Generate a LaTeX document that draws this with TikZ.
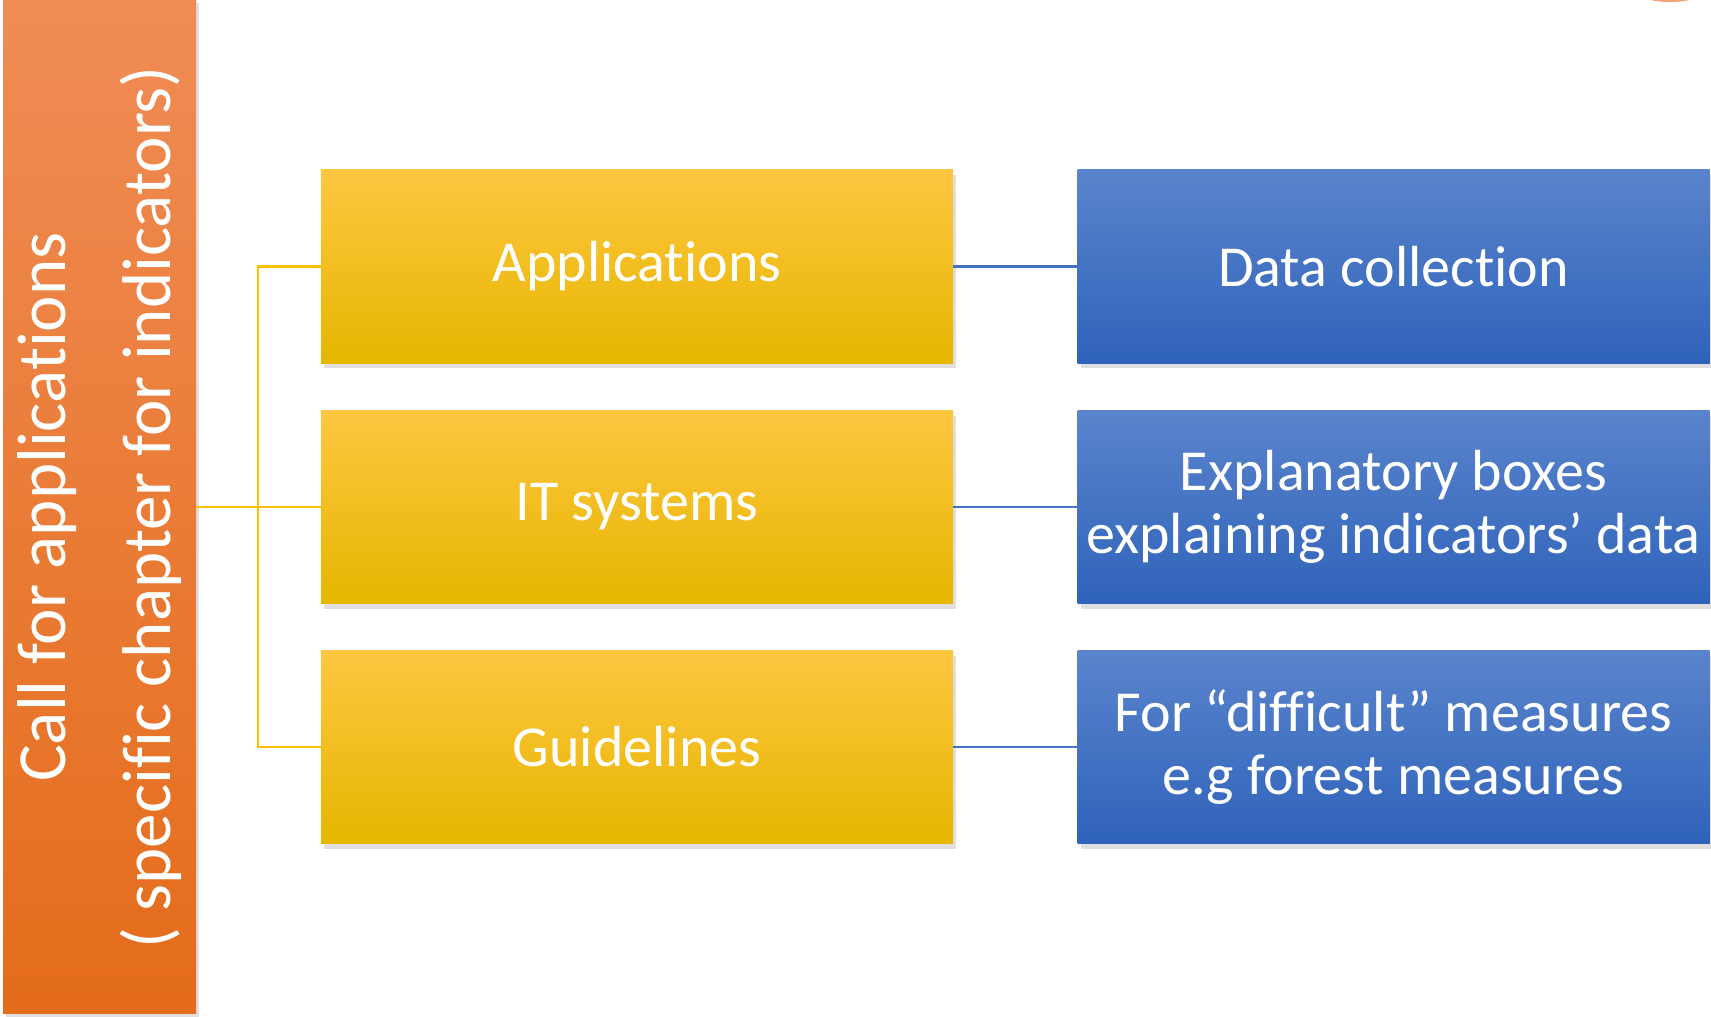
\documentclass[tikz,border=0pt]{standalone}
\usepackage{fontspec}
\setmainfont{Carlito}[Ligatures=CommonOff]
\usetikzlibrary{shadows}
\definecolor{calllight}{HTML}{F08C55}
\definecolor{callmid}{HTML}{F47F30}
\definecolor{calldark}{HTML}{E46C1A}
\definecolor{goldtop}{HTML}{FFC641}
\definecolor{goldmid}{HTML}{FFC000}
\definecolor{goldbot}{HTML}{E6B600}
\definecolor{bluetop}{HTML}{5A84CC}
\definecolor{bluebot}{HTML}{2F63BA}
\definecolor{goldwire}{HTML}{FFC000}
\definecolor{bluewire}{HTML}{4472C4}

\begin{document}
\begin{tikzpicture}[x=0.5pt,y=-0.5pt]
\tikzstyle{every node}+=[inner sep=0pt, text=white, align=center]
\tikzstyle{box}=[rectangle, minimum width=316pt, minimum height=96.5pt, font=\fontsize{29pt}{31.5pt}\selectfont, drop shadow={shadow xshift=1.5pt, shadow yshift=-2.5pt, opacity=0.25}]
\tikzstyle{goldbox}=[box, top color=goldtop, middle color=goldmid, bottom color=goldbot]
\tikzstyle{bluebox}=[box, top color=bluetop, bottom color=bluebot]
\tikzstyle{callbar}=[rectangle, rotate=90, minimum width=506.5pt, minimum height=96.5pt, top color=calllight, middle color=callmid, bottom color=calldark, font=\fontsize{34.5pt}{52.5pt}\selectfont, drop shadow={shadow xshift=1.5pt, shadow yshift=-1.5pt, opacity=0.25}]
\tikzstyle{goldlink}=[draw=goldwire, line width=1.3pt]
\tikzstyle{bluelink}=[draw=bluewire, line width=1.3pt]
\useasboundingbox (0,0) rectangle (1711,1016);
\fill [calllight!80!white] (1670,-2) ellipse (22 and 4);
\node [callbar] (call) at (99.5,507) {Call for applications\\( specific chapter for indicators)};
\node [goldbox] (app) at (637,266.5) {Applications};
\node [goldbox] (it) at (637,507) {IT systems};
\node [goldbox] (guide) at (637,747) {Guidelines};
\node [bluebox] (data) at (1393.5,266.5) {Data collection};
\node [bluebox] (expl) at (1393.5,507) {Explanatory boxes\\explaining indicators’ data};
\node [bluebox] (hard) at (1393.5,747) {For “difficult” measures\\e.g forest measures};
\coordinate (fork) at (258,507);
\draw [goldlink] (call.south) -- (it.west);
\draw [goldlink] (app.west) -- (app.west -| fork) -- (guide.west -| fork) -- (guide.west);
\draw [bluelink] (app.east) -- (data.west);
\draw [bluelink] (it.east) -- (expl.west);
\draw [bluelink] (guide.east) -- (hard.west);
\end{tikzpicture}
\end{document}
